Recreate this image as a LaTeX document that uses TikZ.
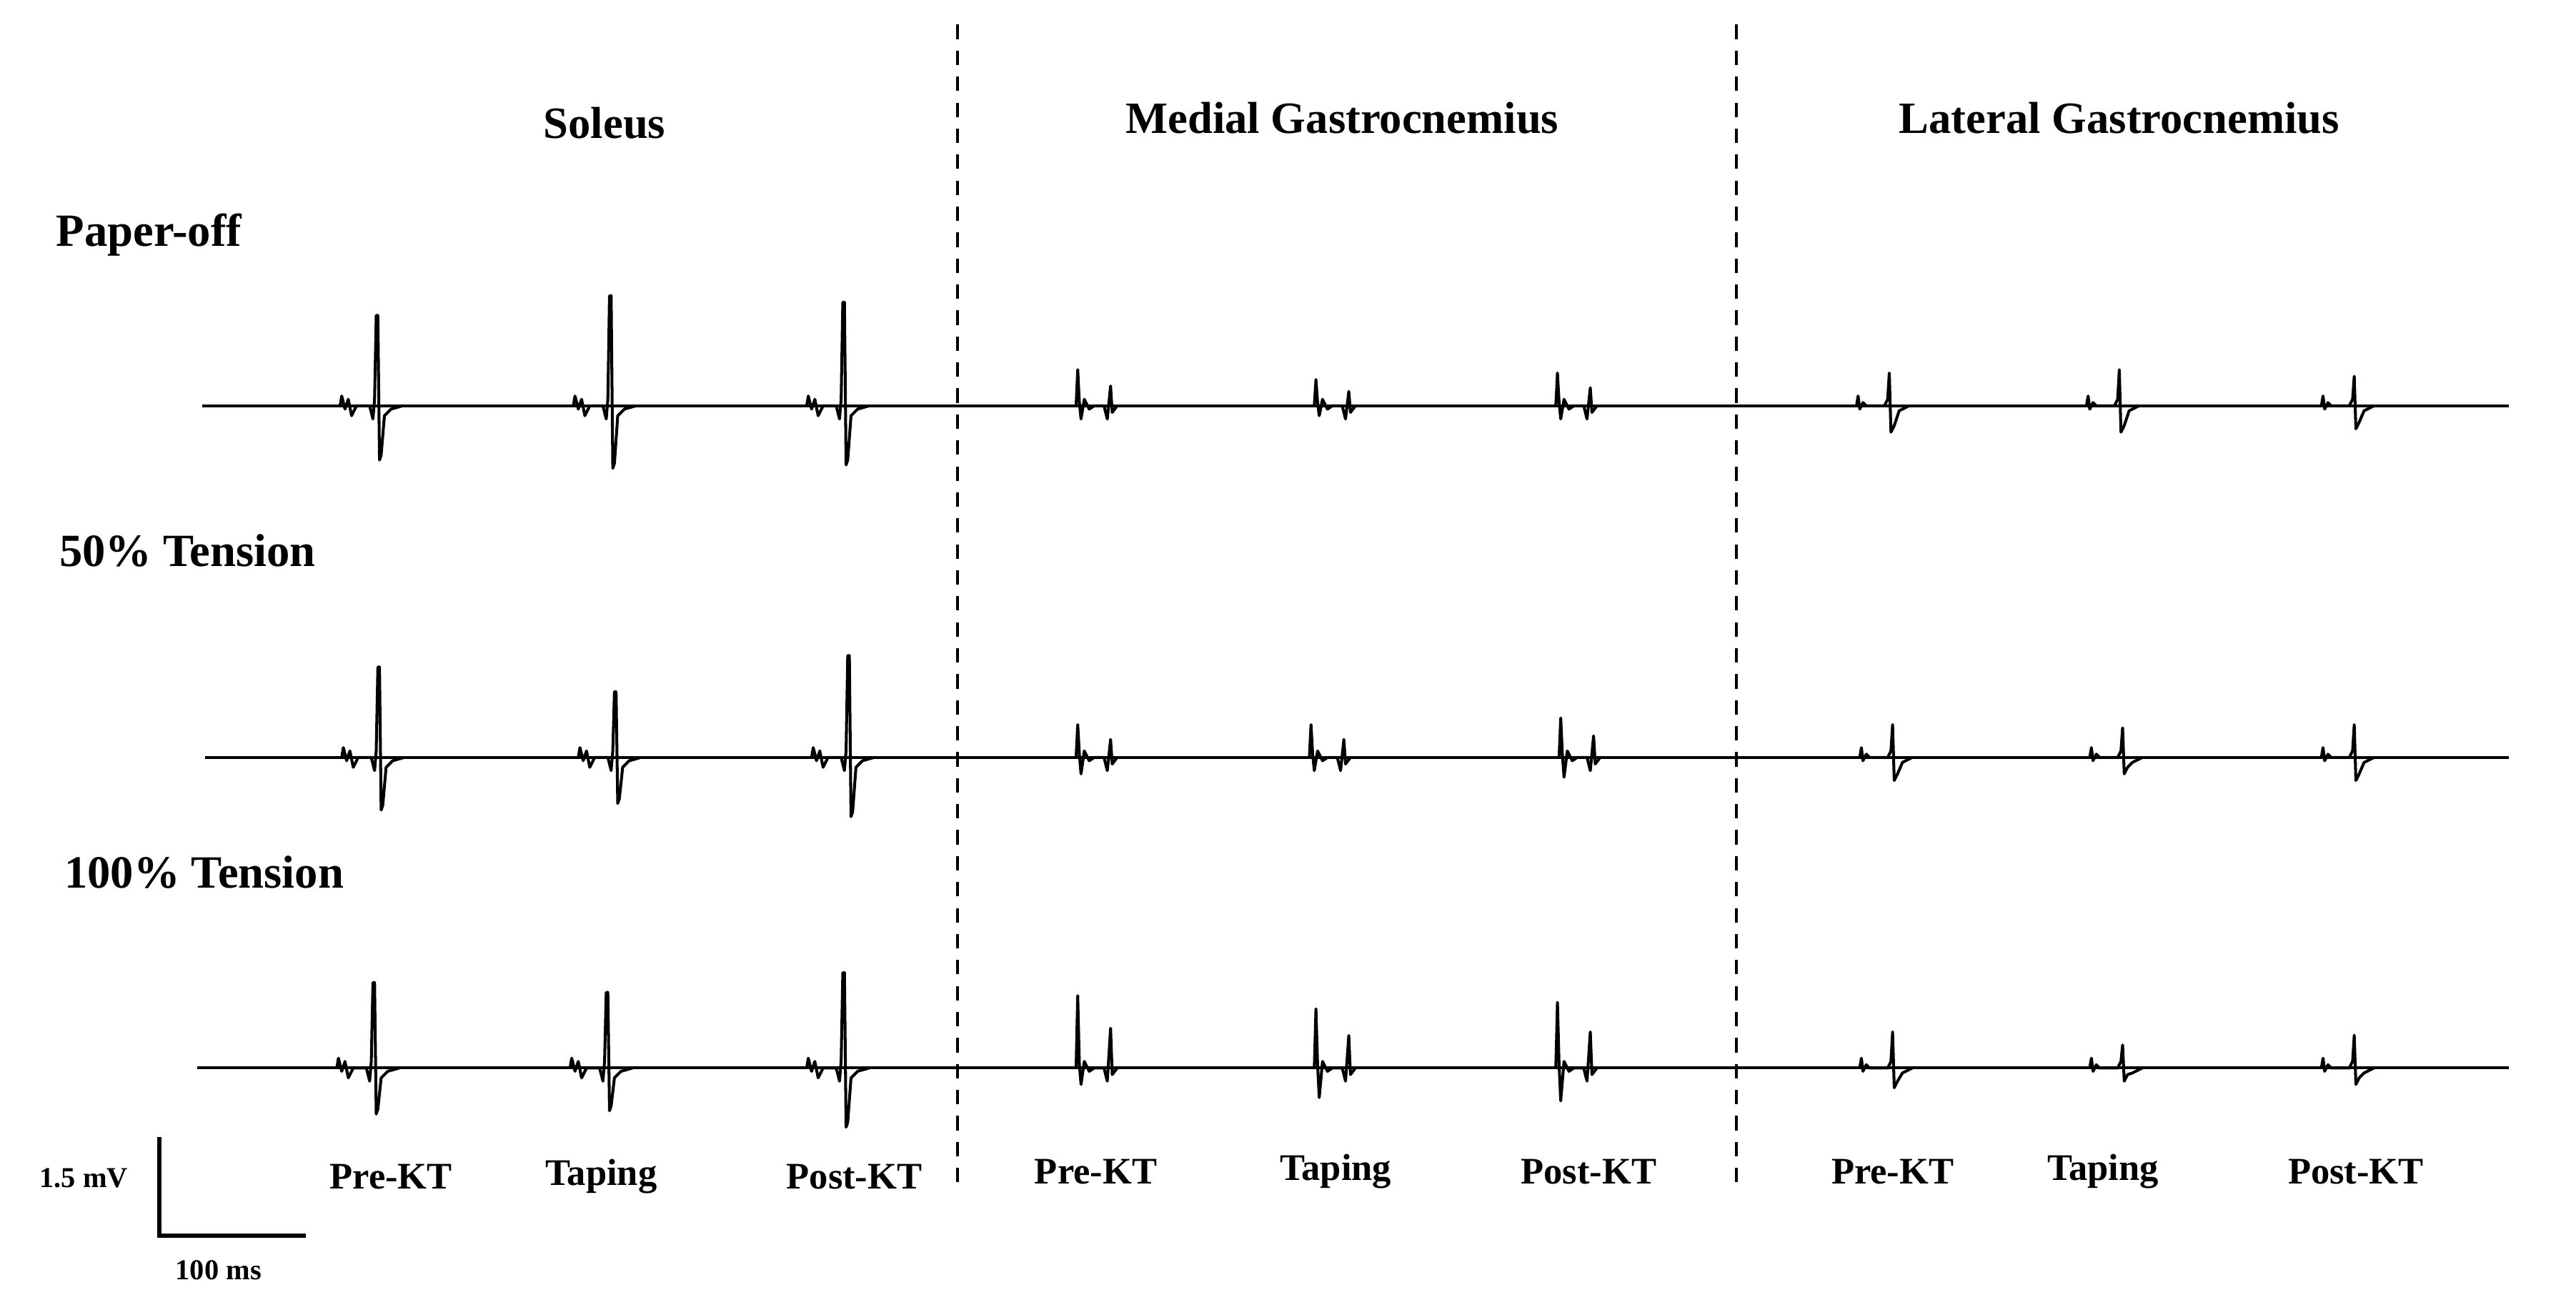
\documentclass[tikz,border=0pt]{standalone}
\usepackage{fontspec}
\setmainfont{Liberation Serif}
\begin{document}
\begin{tikzpicture}[x=0.02cm,y=0.02cm,
  trace/.style={line width=1pt,line join=round},
  hd/.style={font=\bfseries\fontsize{15.5}{18}\selectfont},
  rl/.style={font=\bfseries\fontsize{16}{18}\selectfont,anchor=west},
  bl/.style={font=\bfseries\fontsize{13}{15}\selectfont},
  sm/.style={font=\bfseries\fontsize{10}{12}\selectfont}]
\useasboundingbox (0,0) rectangle (1568,-800);
\newcommand\bigsp[4]{% x, y, up, down
  \draw[trace] ({#1-22},#2)--({#1-21},{#2+6})--({#1-19},{#2-2})--({#1-17},{#2+4})--({#1-15},{#2-6})--({#1-12},#2)
   --({#1-4},#2)--({#1-2},{#2-8})--({#1-1},{#2+4})--(#1,{#2+#3})--({#1+1},{#2+#3})--({#1+2},{#2-#4})--({#1+3},{#2-#4+3})--({#1+5},{#2-6})--({#1+9},{#2-2})--({#1+16},#2);}
\newcommand\medsp[4]{%
  \draw[trace] ({#1-3},#2)--({#1-2},{#2+#3})--({#1-1},{#2+2})--(#1,{#2-#4})--({#1+2},{#2+4})--({#1+5},{#2-2})--({#1+8},{#2})
   --({#1+14},#2)--({#1+16},{#2-8})--({#1+18},{#2+#3*0.55})--({#1+19},{#2-4})--({#1+22},#2);}
\newcommand\latsp[4]{%
  \draw[trace] ({#1-20},#2)--({#1-19},{#2+6})--({#1-18},{#2-2})--({#1-16},{#2+2})--({#1-14},#2)
   --({#1-3},#2)--({#1-1},{#2+4})--(#1,{#2+#3})--({#1+1},{#2-#4})--({#1+3},{#2-#4+4})--({#1+6},{#2-3})--({#1+12},#2);}
% dashed separators
\coordinate (d1t) at (583,-15); \coordinate (d1b) at (583,-720);
\coordinate (d2t) at (1057,-15); \coordinate (d2b) at (1057,-720);
\draw[line width=1pt,dash pattern=on 5pt off 4pt] (d1t)--(d1b);
\draw[line width=1pt,dash pattern=on 5pt off 4pt] (d2t)--(d2b);
% headings
\node[hd] (h1) at (368,-75) {Soleus};
\node[hd] (h2) at (817,-72) {Medial Gastrocnemius};
\node[hd] (h3) at (1290,-72) {Lateral Gastrocnemius};
\node[rl] (r1) at (28,-143) {Paper-off};
\node[rl] (r2) at (30,-335) {50\% Tension};
\node[rl] (r3) at (33,-531) {100\% Tension};
% baselines
\draw[trace] (123,-247)--(1527,-247);
\draw[trace] (125,-461)--(1527,-461);
\draw[trace] (120,-650)--(1527,-650);
% row 1
\bigsp{229}{-247}{55}{33}\bigsp{371}{-247}{67}{38}\bigsp{513}{-247}{63}{36}
\medsp{658}{-247}{22}{8}\medsp{803}{-247}{16}{6}\medsp{950}{-247}{20}{8}
\latsp{1150}{-247}{20}{16}\latsp{1290}{-247}{22}{16}\latsp{1433}{-247}{18}{14}
% row 2
\bigsp{230}{-461}{55}{32}\bigsp{374}{-461}{40}{28}\bigsp{516}{-461}{62}{36}
\medsp{658}{-461}{20}{10}\medsp{800}{-461}{20}{8}\medsp{952}{-461}{24}{12}
\latsp{1152}{-461}{20}{14}\latsp{1292}{-461}{18}{10}\latsp{1433}{-461}{20}{14}
% row 3
\bigsp{227}{-650}{52}{28}\bigsp{369}{-650}{46}{26}\bigsp{513}{-650}{58}{36}
\medsp{658}{-650}{44}{10}\medsp{803}{-650}{36}{18}\medsp{950}{-650}{40}{20}
\latsp{1152}{-650}{22}{12}\latsp{1292}{-650}{14}{8}\latsp{1433}{-650}{20}{10}
% bottom labels
\node[bl] (p1) at (238,-716) {Pre-KT};
\node[bl] (t1) at (366,-716) {Taping};
\node[bl] (q1) at (520,-716) {Post-KT};
\node[bl] (p2) at (667,-713) {Pre-KT};
\node[bl] (t2) at (813,-713) {Taping};
\node[bl] (q2) at (967,-713) {Post-KT};
\node[bl] (p3) at (1152,-713) {Pre-KT};
\node[bl] (t3) at (1280,-713) {Taping};
\node[bl] (q3) at (1434,-713) {Post-KT};
% scale bar
\coordinate (s1) at (97,-692); \coordinate (s2) at (97,-752); \coordinate (s3) at (186,-752);
\draw[line width=1.3pt] (s1)--(s2)--(s3);
\node[sm] (mv) at (51,-717) {1.5 mV};
\node[sm] (ms) at (133,-773) {100 ms};
\end{tikzpicture}
\end{document}
